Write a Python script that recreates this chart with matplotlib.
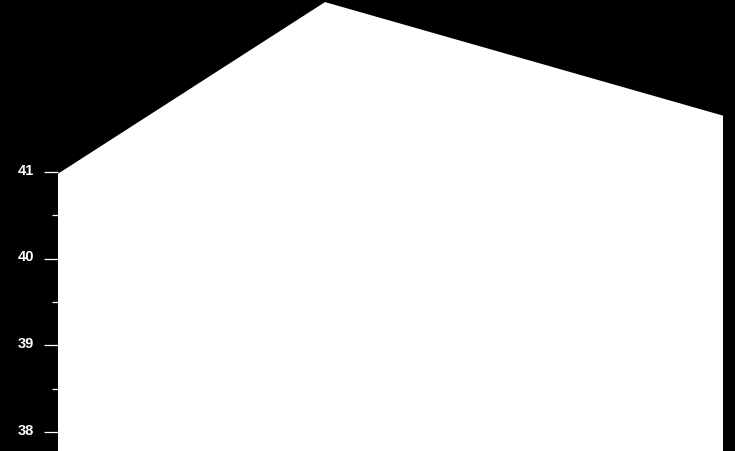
import matplotlib
matplotlib.use("Agg")
import matplotlib.pyplot as plt
import matplotlib.transforms as mtransforms
from matplotlib.ticker import FixedLocator

# data
x_pos = [0.0, 0.4015, 1.0]
values = [40.98, 42.96, 41.65]
y_ticks = [38, 39, 40, 41]
y_tick_labels = ["38", "39", "40", "41"]
y_minor_ticks = [37.5, 38.5, 39.5, 40.5]

fig = plt.figure(figsize=(7.35, 4.52), dpi=100, facecolor="black")
ax = fig.add_axes([58/735, 0.0, (723-58)/735, 1.0])
ax.set_facecolor("black")

ax.fill_between(x_pos, values, 30, color="white", linewidth=0)

ax.set_xlim(0, 1)
ax.set_ylim(41 - (452-173)/86.7, 41 + 173/86.7)
ax.set_yticks(y_ticks)
ax.set_yticklabels(y_tick_labels, fontsize=10.5, color="white", fontweight="bold",
                   family=["Liberation Sans", "DejaVu Sans"])
ax.yaxis.set_minor_locator(FixedLocator(y_minor_ticks))
ax.tick_params(axis="y", which="major", length=10, width=0.9, color="white", pad=8)
ax.tick_params(axis="y", which="minor", length=4.5, width=0.9, color="white")
ax.set_xticks([])
for s in ax.spines.values():
    s.set_visible(False)

offset = mtransforms.ScaledTranslation(1/100, 4/100, fig.dpi_scale_trans)
for lab in ax.get_yticklabels():
    lab.set_transform(lab.get_transform() + offset)

fig.savefig("out.png", dpi=100, facecolor="black")
